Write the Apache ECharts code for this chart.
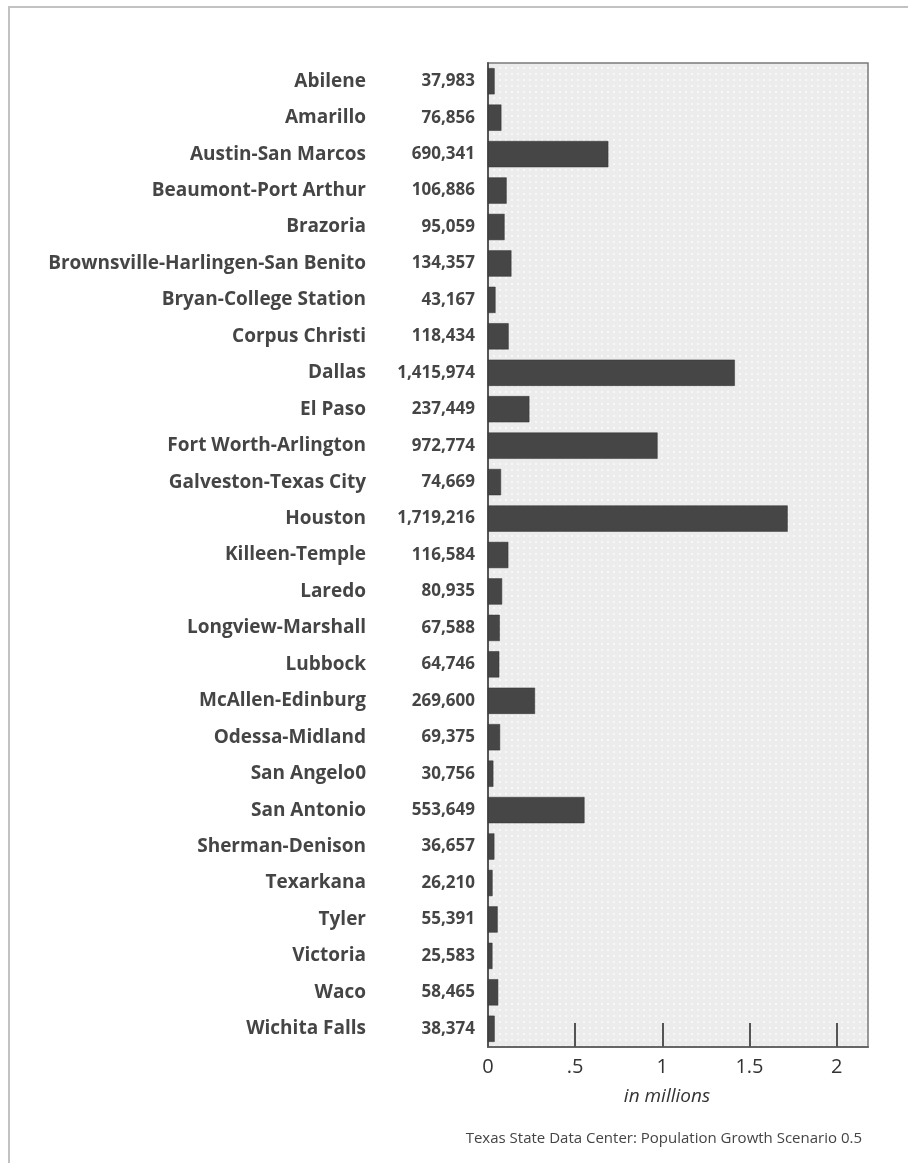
<!DOCTYPE html>
<html>
<head>
<meta charset="utf-8">
<script src="https://cdn.jsdelivr.net/npm/echarts@6/dist/echarts.min.js"></script>
<style>
  html, body { margin: 0; padding: 0; background: #fff; }
  #chart { width: 908px; height: 1163px; }
</style>
</head>
<body>
<div id="chart"></div>
<script>
// Metropolitan areas, top to bottom
const cities = [
  'Abilene', 'Amarillo', 'Austin-San Marcos', 'Beaumont-Port Arthur', 'Brazoria',
  'Brownsville-Harlingen-San Benito', 'Bryan-College Station', 'Corpus Christi',
  'Dallas', 'El Paso', 'Fort Worth-Arlington', 'Galveston-Texas City', 'Houston',
  'Killeen-Temple', 'Laredo', 'Longview-Marshall', 'Lubbock', 'McAllen-Edinburg',
  'Odessa-Midland', 'San Angelo0', 'San Antonio', 'Sherman-Denison', 'Texarkana',
  'Tyler', 'Victoria', 'Waco', 'Wichita Falls'
];

// Population growth (persons)
const growth = [
  37983, 76856, 690341, 106886, 95059,
  134357, 43167, 118434,
  1415974, 237449, 972774, 74669, 1719216,
  116584, 80935, 67588, 64746, 269600,
  69375, 30756, 553649, 36657, 26210,
  55391, 25583, 58465, 38374
];

// Axis ticks (persons) and their labels
const tickValues = [0, 500000, 1000000, 1500000, 2000000];
const tickLabels = ['0', '.5', '1', '1.5', '2'];
const axisMax = 2180000;

const axisTitle = 'in millions';
const sourceNote = 'Texas State Data Center: Population Growth Scenario 0.5';

const fmt = n => n.toLocaleString('en-US');

// light grey dotted texture for the plot background
function dotPattern() {
  const c = document.createElement('canvas');
  c.width = 6; c.height = 6;
  const g = c.getContext('2d');
  g.fillStyle = '#ececec';
  g.fillRect(0, 0, 6, 6);
  g.fillStyle = '#f7f7f7';
  g.fillRect(1, 1, 2, 2);
  return c;
}

const chart = echarts.init(document.getElementById('chart'), null, { renderer: 'canvas' });

const FONT = '"Open Sans", "Noto Sans", sans-serif';
const labelFont = { fontFamily: FONT, fontWeight: 'bold', color: '#454545' };

chart.setOption({
  animation: false,
  backgroundColor: '#fff',
  grid: {
    left: 488, right: 40, top: 63, bottom: 116,
    show: true,
    backgroundColor: { image: dotPattern(), repeat: 'repeat' },
    borderColor: '#7a7a7a',
    borderWidth: 1.5
  },
  xAxis: {
    type: 'value',
    min: 0,
    max: axisMax,
    interval: 500000,
    splitLine: { show: false },
    axisLine: { show: true, lineStyle: { color: '#666', width: 2 } },
    axisTick: {
      show: true, inside: true, length: 24,
      lineStyle: { color: '#555', width: 2 },
      customValues: tickValues
    },
    axisLabel: {
      margin: 10,
      fontFamily: FONT,
      fontSize: 20,
      color: '#333',
      customValues: tickValues,
      formatter: v => tickLabels[tickValues.indexOf(v)] ?? ''
    }
  },
  yAxis: [
    {
      type: 'category',
      data: growth.map(fmt),
      inverse: true,
      axisLine: { show: true, lineStyle: { color: '#555', width: 2 } },
      axisTick: { show: false },
      axisLabel: Object.assign({ margin: 13, fontSize: 17 }, labelFont)
    },
    {
      type: 'category',
      data: cities,
      inverse: true,
      position: 'left',
      axisLine: { show: false },
      axisTick: { show: false },
      axisLabel: Object.assign({ margin: 122, fontSize: 19 }, labelFont)
    }
  ],
  series: [{
    type: 'bar',
    yAxisIndex: 0,
    data: growth,
    barCategoryGap: '28%',
    itemStyle: { color: '#464646', borderColor: '#333', borderWidth: 0.5 },
    silent: true
  }],
  graphic: [
    {
      type: 'rect',
      shape: { x: 9, y: 7, width: 1000, height: 1300 },
      style: { fill: null, stroke: '#c2c2c2', lineWidth: 2 },
      silent: true
    },
    {
      type: 'text',
      x: 667, y: 1097,
      style: {
        text: axisTitle,
        fontFamily: FONT,
        fontStyle: 'italic',
        fontSize: 19,
        fill: '#333',
        align: 'center',
        verticalAlign: 'middle'
      }
    },
    {
      type: 'text',
      x: 862, y: 1139,
      style: {
        text: sourceNote,
        fontFamily: FONT,
        fontSize: 15,
        fill: '#444',
        align: 'right',
        verticalAlign: 'middle'
      }
    }
  ]
});
</script>
</body>
</html>
